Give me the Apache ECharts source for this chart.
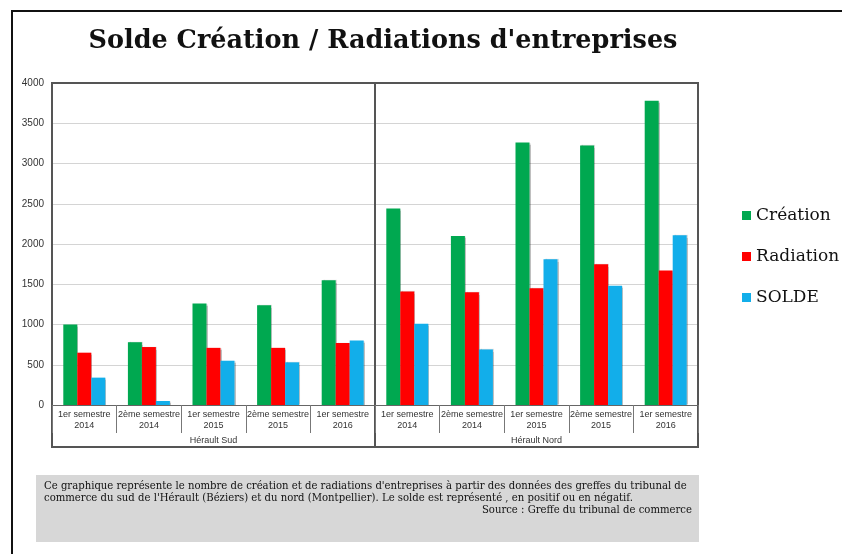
<!DOCTYPE html>
<html>
<head>
<meta charset="utf-8">
<script src="https://cdn.jsdelivr.net/npm/echarts@6/dist/echarts.min.js"></script>
<style>
html,body{margin:0;padding:0;background:#fff;}
#main{width:842px;height:554px;}
</style>
</head>
<body>
<div id="main"></div>
<script>
// donnees
var categories = ['1er semestre\n2014','2ème semestre\n2014','1er semestre\n2015','2ème semestre\n2015','1er semestre\n2016',
                  '1er semestre\n2014','2ème semestre\n2014','1er semestre\n2015','2ème semestre\n2015','1er semestre\n2016'];
var groups = ['Hérault Sud','Hérault Nord'];
var creation  = [1000, 780, 1260, 1240, 1550, 2440, 2100, 3260, 3225, 3780];
var radiation = [ 650, 720,  710,  710,  770, 1410, 1400, 1450, 1750, 1670];
var solde     = [ 340,  50,  550,  530,  800, 1010,  690, 1810, 1480, 2110];
var yTicks = [0, 500, 1000, 1500, 2000, 2500, 3000, 3500, 4000];

var titre = "Solde Création / Radiations d'entreprises";
var note1 = "Ce graphique représente le nombre de création et de radiations d'entreprises à partir des données des greffes du tribunal de";
var note2 = "commerce du sud de l'Hérault (Béziers) et du nord (Montpellier). Le solde est représenté , en positif ou en négatif.";
var source = "Source : Greffe du tribunal de commerce";

var serifLarge = '"DejaVu Serif", serif';
var sans = '"Liberation Sans", Arial, sans-serif';

myChart = echarts.init(document.getElementById('main'));

function serie(name, data, color){
	return {
		name: name, type: 'bar', data: data,
		barWidth: 14, barGap: '0%',
		itemStyle: {color: color, shadowColor: 'rgba(0,0,0,0.25)', shadowOffsetX: 1, shadowOffsetY: 0, shadowBlur: 1}
	};
}

var option = {
	animation: false,
	grid: {left: 52, right: 144, top: 83, bottom: 149},
	legend: {
		orient: 'vertical', left: 737, top: 202,
		itemWidth: 9, itemHeight: 9, itemGap: 24,
		icon: 'rect',
		textStyle: {fontFamily: serifLarge, fontSize: 17, color: '#111'},
		data: ['Création','Radiation','SOLDE']
	},
	xAxis: [{
		type: 'category', data: categories,
		axisLine: {show: true, lineStyle: {color: '#666', width: 1}},
		axisTick: {show: true, interval: 0, length: 28, lineStyle: {color: '#777'}},
		axisLabel: {interval: 0, fontFamily: sans, fontSize: 9, lineHeight: 11, color: '#333', margin: 4}
	},{
		type: 'category', data: groups, position: 'bottom', offset: 30,
		axisLine: {show: false}, axisTick: {show: false},
		axisLabel: {fontFamily: sans, fontSize: 9, color: '#333', margin: 1}
	}],
	yAxis: {
		type: 'value', min: yTicks[0], max: yTicks[yTicks.length-1], interval: 500,
		axisLine: {show: false}, axisTick: {show: false},
		axisLabel: {fontFamily: sans, fontSize: 10, color: '#333', margin: 8, formatter: function(v){ return String(v); }},
		splitLine: {lineStyle: {color: '#d4d4d4', width: 1}}
	},
	series: [
		serie('Création', creation, '#00a850'),
		serie('Radiation', radiation, '#ff0000'),
		serie('SOLDE', solde, '#12aeea')
	]
};
myChart.setOption(option);

// cadres autour des deux groupes, calcules depuis les axes
var c0 = myChart.convertToPixel({xAxisIndex: 0}, 0);
var c1 = myChart.convertToPixel({xAxisIndex: 0}, 1);
var band = c1 - c0;
var gauche = c0 - band / 2;
var milieu = gauche + band * 5;
var droite = gauche + band * 10;
var haut = myChart.convertToPixel({yAxisIndex: 0}, yTicks[yTicks.length-1]);
var zero = myChart.convertToPixel({yAxisIndex: 0}, 0);
var bas = zero + 42;

myChart.setOption({
	graphic: [
		{type: 'rect', shape: {x: 12, y: 11, width: 840, height: 560}, style: {fill: null, stroke: '#111', lineWidth: 2}, silent: true},
		{type: 'text', x: 383, y: 41, style: {text: titre, fontFamily: serifLarge, fontWeight: 'bold', fontSize: 25.5, fill: '#111', textAlign: 'center', textVerticalAlign: 'middle'}},
		{type: 'rect', shape: {x: gauche, y: haut, width: milieu-gauche, height: bas-haut}, style: {fill: null, stroke: '#555', lineWidth: 2}, silent: true},
		{type: 'rect', shape: {x: milieu, y: haut, width: droite-milieu, height: bas-haut}, style: {fill: null, stroke: '#555', lineWidth: 2}, silent: true},
		{type: 'rect', shape: {x: 36, y: 475, width: 663, height: 67}, style: {fill: '#d7d7d7'}, silent: true},
		{type: 'text', x: 44, y: 486, style: {text: note1, fontFamily: serifLarge, fontSize: 10.1, fill: '#111', textVerticalAlign: 'middle'}},
		{type: 'text', x: 44, y: 498, style: {text: note2, fontFamily: serifLarge, fontSize: 10.1, fill: '#111', textVerticalAlign: 'middle'}},
		{type: 'text', x: 692, y: 510, style: {text: source, fontFamily: serifLarge, fontSize: 10.1, fill: '#111', textAlign: 'right', textVerticalAlign: 'middle'}}
	]
});
</script>
</body>
</html>
